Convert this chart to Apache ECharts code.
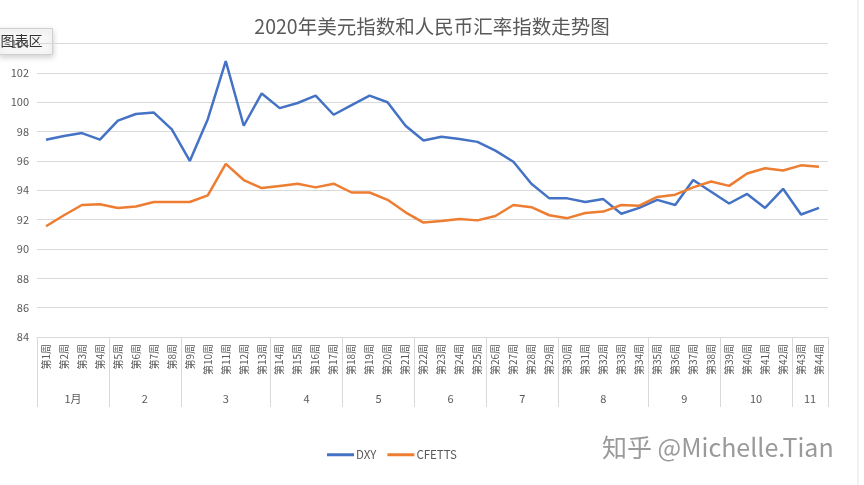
<!DOCTYPE html>
<html>
<head>
<meta charset="utf-8">
<title>2020年美元指数和人民币汇率指数走势图</title>
<script src="https://cdn.jsdelivr.net/npm/echarts@6/dist/echarts.min.js"></script>
<style>
  html, body { margin: 0; padding: 0; background: #fff; }
  #main { width: 864px; height: 485px; }
</style>
</head>
<body>
<div id="main"></div>
<script>
// 周
var weeks = ['第1周', '第2周', '第3周', '第4周', '第5周', '第6周', '第7周', '第8周', '第9周', '第10周',
  '第11周', '第12周', '第13周', '第14周', '第15周', '第16周', '第17周', '第18周', '第19周', '第20周',
  '第21周', '第22周', '第23周', '第24周', '第25周', '第26周', '第27周', '第28周', '第29周', '第30周',
  '第31周', '第32周', '第33周', '第34周', '第35周', '第36周', '第37周', '第38周', '第39周', '第40周',
  '第41周', '第42周', '第43周', '第44周'];
// 月份及每月周数
var months = ['1月', '2', '3', '4', '5', '6', '7', '8', '9', '10', '11'];
var monthWeeks = [4, 4, 5, 4, 4, 4, 4, 5, 4, 4, 2];
// 美元指数
var dxy = [97.45, 97.7, 97.9, 97.45, 98.75, 99.2, 99.3, 98.15, 96.0, 98.85,
  102.8, 98.4, 100.6, 99.6, 99.95, 100.45, 99.15, 99.8, 100.45, 100.0,
  98.4, 97.4, 97.65, 97.5, 97.3, 96.7, 95.95, 94.45, 93.45, 93.45,
  93.2, 93.4, 92.4, 92.8, 93.35, 93.0, 94.7, 93.9, 93.1, 93.75,
  92.8, 94.1, 92.35, 92.8];
// CFETS人民币汇率指数
var cfetts = [91.55, 92.3, 93.0, 93.05, 92.8, 92.9, 93.2, 93.2, 93.2, 93.65,
  95.8, 94.7, 94.15, 94.3, 94.45, 94.2, 94.45, 93.85, 93.85, 93.35,
  92.5, 91.8, 91.9, 92.05, 91.95, 92.25, 93.0, 92.85, 92.3, 92.1,
  92.45, 92.55, 93.0, 92.95, 93.55, 93.7, 94.2, 94.6, 94.3, 95.15,
  95.5, 95.35, 95.7, 95.6];
// y轴
var yMin = 84, yMax = 104, yStep = 2;

var font = '"Noto Sans CJK SC", "Noto Sans", sans-serif';
var gray = '#595959';

// 月份分隔位置 和 月份标签位置
var bounds = [0];
var centers = [];
var monthAt = {};
for (var i = 0; i < monthWeeks.length; i++) {
  var start = bounds[bounds.length - 1];
  var end = start + monthWeeks[i];
  bounds.push(end);
  centers.push((start + end) / 2);
  monthAt[(start + end) / 2] = months[i];
}

var myChart = echarts.init(document.getElementById('main'));
var option = {
  backgroundColor: '#fff',
  animation: false,
  title: {
    text: '2020年美元指数和人民币汇率指数走势图',
    left: 'center',
    top: 12,
    textStyle: { fontFamily: font, fontSize: 19.5, fontWeight: 'normal', color: gray }
  },
  legend: {
    left: 322,
    top: 444,
    itemWidth: 27,
    itemHeight: 3,
    itemGap: 11,
    icon: 'rect',
    textStyle: { fontFamily: font, fontSize: 11.5, color: gray, padding: [0, 0, 0, -3] },
    data: ['DXY', 'CFETTS']
  },
  grid: { left: 37, right: 36, top: 43.6, bottom: 148, containLabel: false },
  xAxis: [{
    type: 'category',
    data: weeks,
    boundaryGap: true,
    axisLine: { lineStyle: { color: '#d9d9d9' } },
    axisTick: { show: false },
    axisLabel: {
      interval: 0,
      rotate: 90,
      margin: 7,
      fontFamily: font,
      fontSize: 10,
      color: gray
    }
  }, {
    type: 'value',
    position: 'bottom',
    min: 0,
    max: weeks.length,
    axisLine: { show: false },
    splitLine: { show: false },
    axisTick: {
      show: true,
      customValues: bounds,
      length: 70,
      lineStyle: { color: '#d9d9d9' }
    },
    axisLabel: {
      customValues: centers,
      margin: 56,
      fontFamily: font,
      fontSize: 11,
      color: gray,
      formatter: function (v) { return monthAt[v] || ''; }
    }
  }],
  yAxis: {
    type: 'value',
    min: yMin,
    max: yMax,
    interval: yStep,
    axisLine: { show: false },
    axisTick: { show: false },
    axisLabel: { fontFamily: font, fontSize: 11, color: gray, margin: 8 },
    splitLine: { lineStyle: { color: '#d9d9d9' } }
  },
  series: [{
    name: 'DXY',
    type: 'line',
    data: dxy,
    showSymbol: false,
    symbol: 'none',
    itemStyle: { color: '#4472C4' },
    lineStyle: { color: '#4472C4', width: 2.5 }
  }, {
    name: 'CFETTS',
    type: 'line',
    data: cfetts,
    showSymbol: false,
    symbol: 'none',
    itemStyle: { color: '#ED7D31' },
    lineStyle: { color: '#ED7D31', width: 2.5 }
  }],
  graphic: [{
    // 右侧边框
    type: 'line',
    shape: { x1: 858, y1: 0, x2: 858, y2: 485 },
    style: { stroke: '#e3e3e3', lineWidth: 1 }
  }, {
    // 水印
    type: 'text',
    left: 602,
    top: 435,
    style: { text: '知乎 @Michelle.Tian', fontFamily: font, fontSize: 25, fill: '#9a9a9a' }
  }, {
    // 图表区 提示框
    type: 'group',
    left: -1,
    top: 28,
    children: [{
      type: 'rect',
      shape: { x: 0, y: 0, width: 53, height: 26 },
      style: {
        fill: '#f7f7f7',
        stroke: '#d0d0d0',
        lineWidth: 1,
        shadowBlur: 6,
        shadowColor: 'rgba(0,0,0,0.18)',
        shadowOffsetY: 2
      }
    }, {
      type: 'text',
      x: 1,
      y: 5,
      style: { text: '图表区', fontFamily: font, fontSize: 14, fill: '#333' }
    }]
  }]
};
myChart.setOption(option);
</script>
</body>
</html>
